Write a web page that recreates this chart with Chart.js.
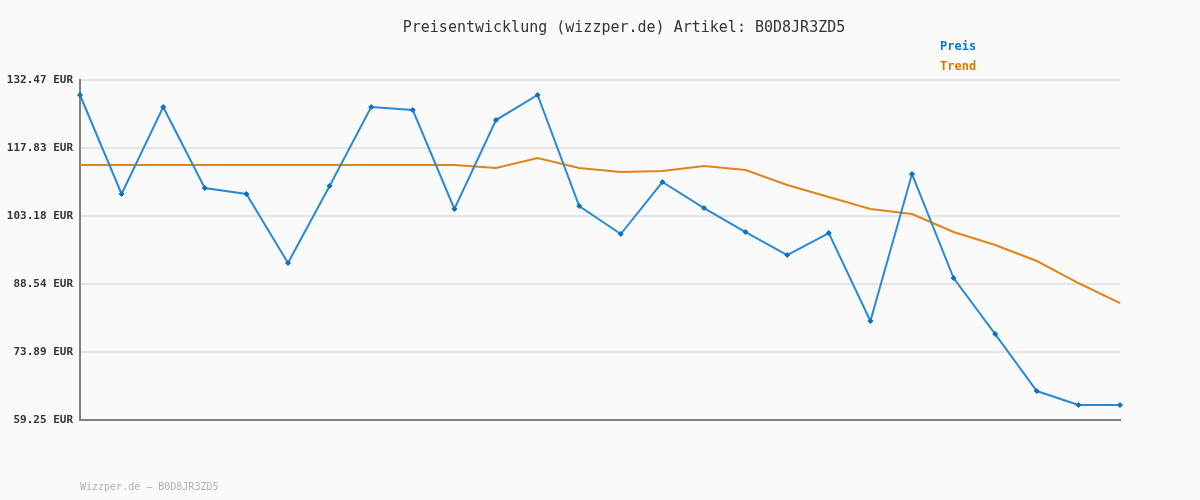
<!DOCTYPE html>
<html>
<head>
<meta charset="utf-8">
<script src="https://cdn.jsdelivr.net/npm/chart.js@4"></script>
<style>
  html, body { margin: 0; padding: 0; background: #fafafa; }
  #wrap { width: 1200px; height: 500px; }
</style>
</head>
<body>
<div id="wrap"><canvas id="chart" width="1200" height="500"></canvas></div>
<script>
/* data */
const labels = ['1','2','3','4','5','6','7','8','9','10','11','12','13','14','15','16','17','18','19','20','21','22','23','24','25','26'];
const preis = [129.24, 107.92, 126.65, 109.21, 107.92, 93.06, 109.64, 126.65, 126.01, 104.69,
               123.85, 129.24, 105.33, 99.30, 110.50, 104.90, 99.73, 94.78, 99.52, 80.56,
               112.22, 89.82, 77.76, 65.48, 62.47, 62.47];
const trend = [114.16, 114.16, 114.16, 114.16, 114.16, 114.16, 114.16, 114.16, 114.16, 114.16,
               113.52, 115.67, 113.52, 112.65, 112.87, 113.95, 113.09, 109.85, 107.27, 104.69,
               103.61, 99.73, 96.93, 93.49, 88.75, 84.44];
const yTicks = [59.25, 73.89, 88.54, 103.18, 117.83, 132.47];

const mono = '"DejaVu Sans Mono", "Liberation Mono", monospace';

/* title, legend and footer text */
const extras = {
  id: 'extras',
  afterDraw(chart) {
    const c = chart.ctx;
    c.save();
    c.textBaseline = 'middle';
    c.fillStyle = '#333';
    c.font = '15px ' + mono;
    c.textAlign = 'center';
    c.fillText('Preisentwicklung (wizzper.de) Artikel: B0D8JR3ZD5', 624, 28);

    c.textAlign = 'left';
    c.font = 'bold 12px ' + mono;
    chart.data.datasets.forEach((ds, i) => {
      c.fillStyle = ds.legendColor;
      c.fillText(ds.label, 940, 47 + i * 20);
    });

    c.font = '10px ' + mono;
    c.fillStyle = '#b0b0b0';
    c.fillText('Wizzper.de \u2013 B0D8JR3ZD5', 80, 487);
    c.restore();
  }
};

new Chart(document.getElementById('chart'), {
  type: 'line',
  data: {
    labels: labels,
    datasets: [{
      label: 'Preis',
      data: preis,
      borderColor: '#2a8ad4',
      borderWidth: 2,
      pointStyle: 'rectRot',
      pointRadius: 2.5,
      pointBackgroundColor: '#0a70c0',
      pointBorderColor: '#0a70c0',
      pointBorderWidth: 1,
      tension: 0,
      legendColor: '#0a78c8'
    }, {
      label: 'Trend',
      data: trend,
      borderColor: '#e0841a',
      borderWidth: 2,
      pointRadius: 0,
      tension: 0,
      legendColor: '#d87a00'
    }]
  },
  options: {
    responsive: false,
    animation: false,
    layout: { padding: { top: 80, right: 80, bottom: 80, left: 0 } },
    plugins: {
      legend: { display: false },
      title: { display: false },
      tooltip: { enabled: false }
    },
    scales: {
      x: {
        offset: false,
        grid: { display: false },
        border: { display: true, color: '#808080', width: 2 },
        ticks: { display: false },
        afterFit(scale) { scale.height = 0; }
      },
      y: {
        min: 59.25,
        max: 132.47,
        afterBuildTicks(scale) { scale.ticks = yTicks.map(v => ({ value: v })); },
        afterFit(scale) { scale.width = 80; },
        grid: { color: '#e4e4e4', lineWidth: 2, drawTicks: false },
        border: { display: true, color: '#808080', width: 2 },
        ticks: {
          padding: 7,
          color: '#333',
          font: { family: mono, size: 11, weight: 'bold' },
          callback: v => v.toFixed(2) + ' EUR'
        }
      }
    }
  },
  plugins: [extras]
});
</script>
</body>
</html>
